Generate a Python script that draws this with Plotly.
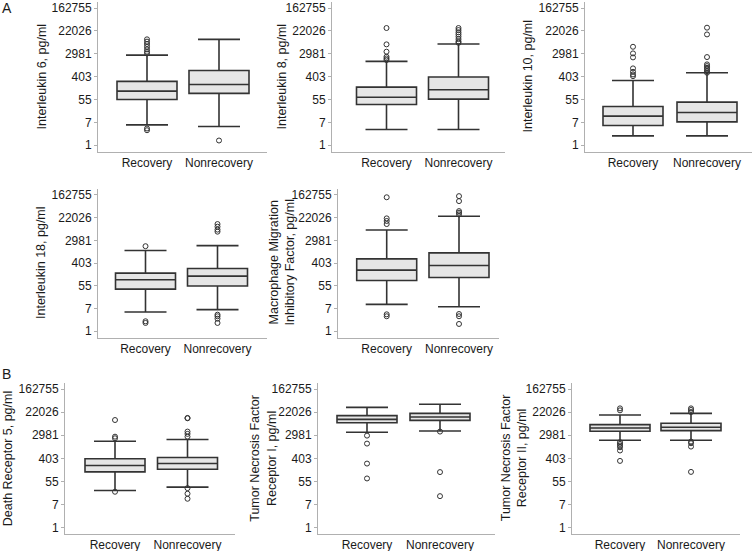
import math
import plotly.graph_objects as go

W, H = 755, 551
groups = ["Recovery", "Nonrecovery"]
tick_vals = [1, 7.389, 54.6, 403.4, 2981, 22026, 162755]
tick_text = ["1", "7", "55", "403", "2981", "22026", "162755"]

titles = [
    "Interleukin 6, pg/ml",
    "Interleukin 8, pg/ml",
    "Interleukin 10, pg/ml",
    "Interleukin 18, pg/ml",
    "Macrophage Migration<br>Inhibitory Factor, pg/ml",
    "Death Receptor 5, pg/ml",
    "Tumor Necrosis Factor<br>Receptor I, pg/ml",
    "Tumor Necrosis Factor<br>Receptor II, pg/ml",
]

# [Recovery, Nonrecovery] summary stats (pg/ml)
q1 = [[54.6, 92.8], [35.2, 56.3], [5.58, 7.69], [40.9, 53.5],
      [87.4, 114], [125, 158], [8866, 10829], [4230, 4447]]
median = [[113, 202], [66.7, 128], [12.7, 17.5], [92.8, 128],
          [217, 327], [217, 257], [11849, 14472], [5597, 5943]]
q3 = [[265, 692], [161, 388], [29.7, 43.4], [167, 252],
      [584, 992], [388, 433], [16318, 19930], [7480, 8433]]
lower = [[5.93, 5.16], [3.94, 3.94], [2.27, 2.27], [5.47, 6.69],
         [10.7, 8.67], [25.0, 33.4], [3866, 4316], [1939, 1939]]
upper = [[2644, 10509], [1525, 6974], [287, 567], [1224, 1882],
         [7480, 24834], [1772, 2059], [33523, 43477], [17326, 19930]]

outliers_rec = [
    [3.71, 4.31, 3072, 3569, 4359, 5486, 6974, 8600, 10509],
    [1720, 1978, 2298, 3569, 6768, 28283],
    [420, 488, 614, 829, 2164, 3072, 5486],
    [2.08, 2.41, 1790],
    [3.74, 4.44, 12581, 16482, 20743, 133000],
    [22.4, 2298, 2644, 11159],
    [70.8, 257, 1451, 2893],
    [324, 797, 1054, 1224, 1408, 1636, 25848, 30638],
]
outliers_non = [
    [1.51],
    [7785, 8778, 10721, 13226, 16155, 19341, 23624, 28283],
    [567, 652, 757, 871, 1012, 1176, 2230, 16155, 29143],
    [2.08, 3.03, 3.74, 4.31, 6438, 7700, 9996, 12581],
    [1.90, 3.74, 4.57, 29436, 34200, 39340, 94877, 147000],
    [12.2, 18.9, 30.6, 2644, 3361, 4105, 13000, 13360],
    [15.3, 123, 4105],
    [125, 1119, 1495, 1720, 22247, 26635, 30638],
]

# layout in pixels: (axis left, axis right, center rec, center non, top, bottom)
panels = [
    (98, 267, 147, 219, 1.5, 151.5),
    (332, 505, 386.5, 458.5, 1.5, 151.5),
    (585, 752, 633, 707, 1.5, 151.5),
    (98, 267, 145.5, 217.5, 188.5, 337.5),
    (338, 499, 386.7, 459, 188.5, 337.5),
    (65, 235, 115, 187.5, 382.5, 534),
    (318, 495, 367, 440, 382.5, 534),
    (572, 740, 620, 691, 382.5, 534),
]
title_x = [41, 281, 527, 41, 281.5, 8, 263.5, 514]

yr = [math.log10(math.exp(-0.55)), math.log10(math.exp(12.57))]
font = "Liberation Sans, Arial, sans-serif"
dark = "#333333"
axc = "#b0b0b0"

fig = go.Figure()
layout = dict(width=W, height=H, margin=dict(l=0, r=0, t=0, b=0),
              plot_bgcolor="white", paper_bgcolor="white", showlegend=False,
              font=dict(family=font, size=12, color="#1a1a1a"))
annotations = []
for i, (L, R, c0, c1, top, bot) in enumerate(panels):
    n = "" if i == 0 else str(i + 1)
    unit = c1 - c0
    xr = [(L - c0) / unit, (R - c0) / unit]
    bw = 60 / unit
    for g in range(2):
        fig.add_trace(go.Box(
            x=[groups[g]], q1=[q1[i][g]], median=[median[i][g]], q3=[q3[i][g]],
            lowerfence=[lower[i][g]], upperfence=[upper[i][g]],
            width=bw, whiskerwidth=0.7, boxpoints=False,
            fillcolor="#e6e6e6", line=dict(color=dark, width=1.6),
            xaxis="x" + n, yaxis="y" + n, hoverinfo="skip"))
    for g, outs in enumerate([outliers_rec[i], outliers_non[i]]):
        fig.add_trace(go.Scatter(
            x=[groups[g]] * len(outs), y=outs, mode="markers",
            marker=dict(symbol="circle-open", size=5, color=dark, line=dict(width=1)),
            xaxis="x" + n, yaxis="y" + n, hoverinfo="skip"))
    layout["xaxis" + n] = dict(
        domain=[L / W, R / W], range=xr, type="category",
        categoryorder="array", categoryarray=groups, anchor="y" + n,
        showline=True, linecolor=axc, linewidth=1, ticks="", showgrid=False,
        zeroline=False, tickfont=dict(size=12, color="#1a1a1a"))
    layout["yaxis" + n] = dict(
        domain=[1 - bot / H, 1 - top / H], type="log", range=yr, anchor="x" + n,
        tickvals=tick_vals, ticktext=tick_text, ticks="outside", ticklen=3,
        tickcolor=axc, showline=True, linecolor=axc, linewidth=1, showgrid=False,
        zeroline=False, tickfont=dict(size=12, color="#1a1a1a"))
    annotations.append(dict(
        text=titles[i], x=title_x[i] / W, y=1 - (top + bot) / 2 / H,
        xref="paper", yref="paper", xanchor="center", yanchor="middle",
        textangle=-90, showarrow=False, font=dict(size=12.5, color="#1a1a1a")))

annotations.append(dict(text="A", x=0, y=1 - 8 / H, xref="paper", yref="paper",
                        xanchor="left", yanchor="middle", showarrow=False,
                        font=dict(size=14, color="#1a1a1a")))
annotations.append(dict(text="B", x=0, y=1 - 374 / H, xref="paper", yref="paper",
                        xanchor="left", yanchor="middle", showarrow=False,
                        font=dict(size=14, color="#1a1a1a")))
layout["annotations"] = annotations
fig.update_layout(**layout)
fig.write_html("out.html", config={"displayModeBar": False},
               post_script="document.body.style.margin='0';document.body.style.padding='0';document.body.style.overflow='hidden';")
